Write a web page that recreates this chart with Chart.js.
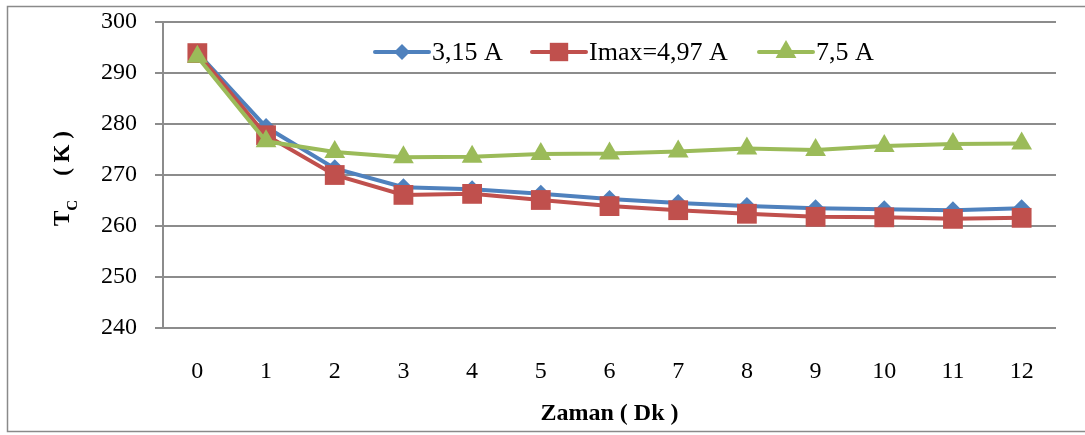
<!DOCTYPE html>
<html>
<head>
<meta charset="utf-8">
<title>Tc - Zaman</title>
<script src="https://cdn.jsdelivr.net/npm/chart.js"></script>
<style>
  html, body { margin: 0; padding: 0; background: #fff; }
  #wrap { width: 1085px; height: 435px; }
</style>
</head>
<body>
<div id="wrap"><canvas id="tcChart" width="1085" height="435"></canvas></div>
<script>
// Minutes on the x axis
const minutes = ["0", "1", "2", "3", "4", "5", "6", "7", "8", "9", "10", "11", "12"];

// Cold side temperature (K) for each current
const tc315 = [294.0, 279.4, 271.3, 267.6, 267.2, 266.3, 265.3, 264.5, 263.9, 263.5, 263.3, 263.1, 263.5];
const tcImax = [293.9, 277.8, 270.0, 266.1, 266.3, 265.1, 263.9, 263.1, 262.4, 261.8, 261.7, 261.4, 261.6];
const tc75 = [293.2, 276.6, 274.5, 273.5, 273.6, 274.1, 274.2, 274.6, 275.2, 274.9, 275.7, 276.1, 276.2];

const seriesNames = ["3,15 A", "Imax=4,97 A", "7,5 A"];
const yTicks = [240, 250, 260, 270, 280, 290, 300];

const BLUE = "#4f81bd";
const RED = "#c0504d";
const GREEN = "#9bbb59";
const GRID = "#8c8c8c";
const SERIF = "\"Liberation Serif\", \"Times New Roman\", \"DejaVu Serif\", serif";

Chart.defaults.font.family = SERIF;

// frame around the whole chart
const framePlugin = {
  id: "frame",
  beforeDraw(chart) {
    const ctx = chart.ctx;
    ctx.save();
    ctx.fillStyle = "#fff";
    ctx.fillRect(0, 0, chart.width, chart.height);
    ctx.strokeStyle = "#8a8a8a";
    ctx.lineWidth = 1.5;
    ctx.strokeRect(7.5, 6.5, 1090, 425);
    ctx.restore();
  }
};

// y title with subscript C
const yTitlePlugin = {
  id: "yTitle",
  afterDraw(chart) {
    const ctx = chart.ctx;
    ctx.save();
    ctx.translate(69, 226);
    ctx.rotate(-Math.PI / 2);
    ctx.fillStyle = "#000";
    ctx.textBaseline = "alphabetic";
    ctx.textAlign = "left";
    ctx.font = "bold 23px " + SERIF;
    ctx.fillText("T", 0, 0);
    let x = ctx.measureText("T").width;
    ctx.font = "bold 15px " + SERIF;
    ctx.fillText("C", x, 8);
    x += ctx.measureText("C").width + 24;
    ctx.font = "bold 23px " + SERIF;
    ctx.fillText("( K )", x, 0);
    ctx.restore();
  }
};

function drawMarker(ctx, style, x, y, r, color) {
  ctx.fillStyle = color;
  ctx.beginPath();
  if (style === "rectRot") {
    ctx.moveTo(x, y - r);
    ctx.lineTo(x + r, y);
    ctx.lineTo(x, y + r);
    ctx.lineTo(x - r, y);
  } else if (style === "rect") {
    const s = r * Math.SQRT1_2;
    ctx.rect(x - s, y - s, 2 * s, 2 * s);
  } else {
    const h = r * Math.sqrt(3) / 2;
    ctx.moveTo(x, y - r);
    ctx.lineTo(x + h, y + r / 2);
    ctx.lineTo(x - h, y + r / 2);
  }
  ctx.closePath();
  ctx.fill();
}

// legend inside the plot, line + marker + label
const legendPlugin = {
  id: "innerLegend",
  afterDatasetsDraw(chart) {
    const ctx = chart.ctx;
    const y = 52;
    const items = [
      { x: 375, color: BLUE, style: "rectRot", r: 8 },
      { x: 532, color: RED, style: "rect", r: 13 },
      { x: 759, color: GREEN, style: "triangle", r: 12 }
    ];
    ctx.save();
    items.forEach((it, i) => {
      ctx.strokeStyle = it.color;
      ctx.lineWidth = 4;
      ctx.lineCap = "round";
      ctx.beginPath();
      ctx.moveTo(it.x, y);
      ctx.lineTo(it.x + 54, y);
      ctx.stroke();
      drawMarker(ctx, it.style, it.x + 27, y, it.r, it.color);
      ctx.fillStyle = "#000";
      ctx.font = "26px " + SERIF;
      ctx.textBaseline = "middle";
      ctx.fillText(seriesNames[i], it.x + 57, y + 1);
    });
    ctx.restore();
  }
};

function drawChart() {
  new Chart(document.getElementById("tcChart"), {
    type: "line",
    data: {
      labels: minutes,
      datasets: [
        {
          label: seriesNames[0], data: tc315, order: 2,
          borderColor: BLUE, backgroundColor: BLUE, borderWidth: 4,
          pointStyle: "rectRot", pointRadius: 9, pointBorderWidth: 0
        },
        {
          label: seriesNames[1], data: tcImax, order: 1,
          borderColor: RED, backgroundColor: RED, borderWidth: 4,
          pointStyle: "rect", pointRadius: 14, pointBorderWidth: 0
        },
        {
          label: seriesNames[2], data: tc75, order: 0,
          borderColor: GREEN, backgroundColor: GREEN, borderWidth: 4,
          pointStyle: "triangle", pointRadius: 12, pointBorderWidth: 0
        }
      ]
    },
    options: {
      responsive: false,
      animation: false,
      events: [],
      layout: { padding: { top: 22, right: 29, left: 0, bottom: 0 } },
      elements: { line: { tension: 0 } },
      plugins: {
        legend: { display: false },
        tooltip: { enabled: false }
      },
      scales: {
        x: {
          offset: true,
          grid: { display: false, drawTicks: false },
          border: { display: false },
          ticks: { color: "#000", padding: 29, font: { family: SERIF, size: 24 }, maxRotation: 0 },
          title: {
            display: true, text: "Zaman ( Dk )", color: "#000",
            font: { family: SERIF, size: 24, weight: "bold" },
            padding: { top: 0, bottom: 7 }
          },
          afterFit(scale) {
            scale.height = 107;
            scale.paddingLeft = 0;
            scale.paddingRight = 0;
          }
        },
        y: {
          min: 240, max: 300,
          afterBuildTicks(scale) { scale.ticks = yTicks.map(v => ({ value: v })); },
          grid: { color: GRID, lineWidth: 2, tickLength: 8, drawTicks: true },
          border: { display: true, color: GRID, width: 2 },
          ticks: { color: "#000", padding: 18, font: { family: SERIF, size: 24 } },
          afterFit(scale) {
            scale.width = 163;
            scale.paddingTop = 0;
            scale.paddingBottom = 0;
          }
        }
      }
    },
    plugins: [framePlugin, yTitlePlugin, legendPlugin]
  });
}

const fontLoads = ["24px \"Liberation Serif\"", "bold 24px \"Liberation Serif\""].map(f => document.fonts.load(f));
Promise.all(fontLoads).then(drawChart, drawChart);
</script>
</body>
</html>
